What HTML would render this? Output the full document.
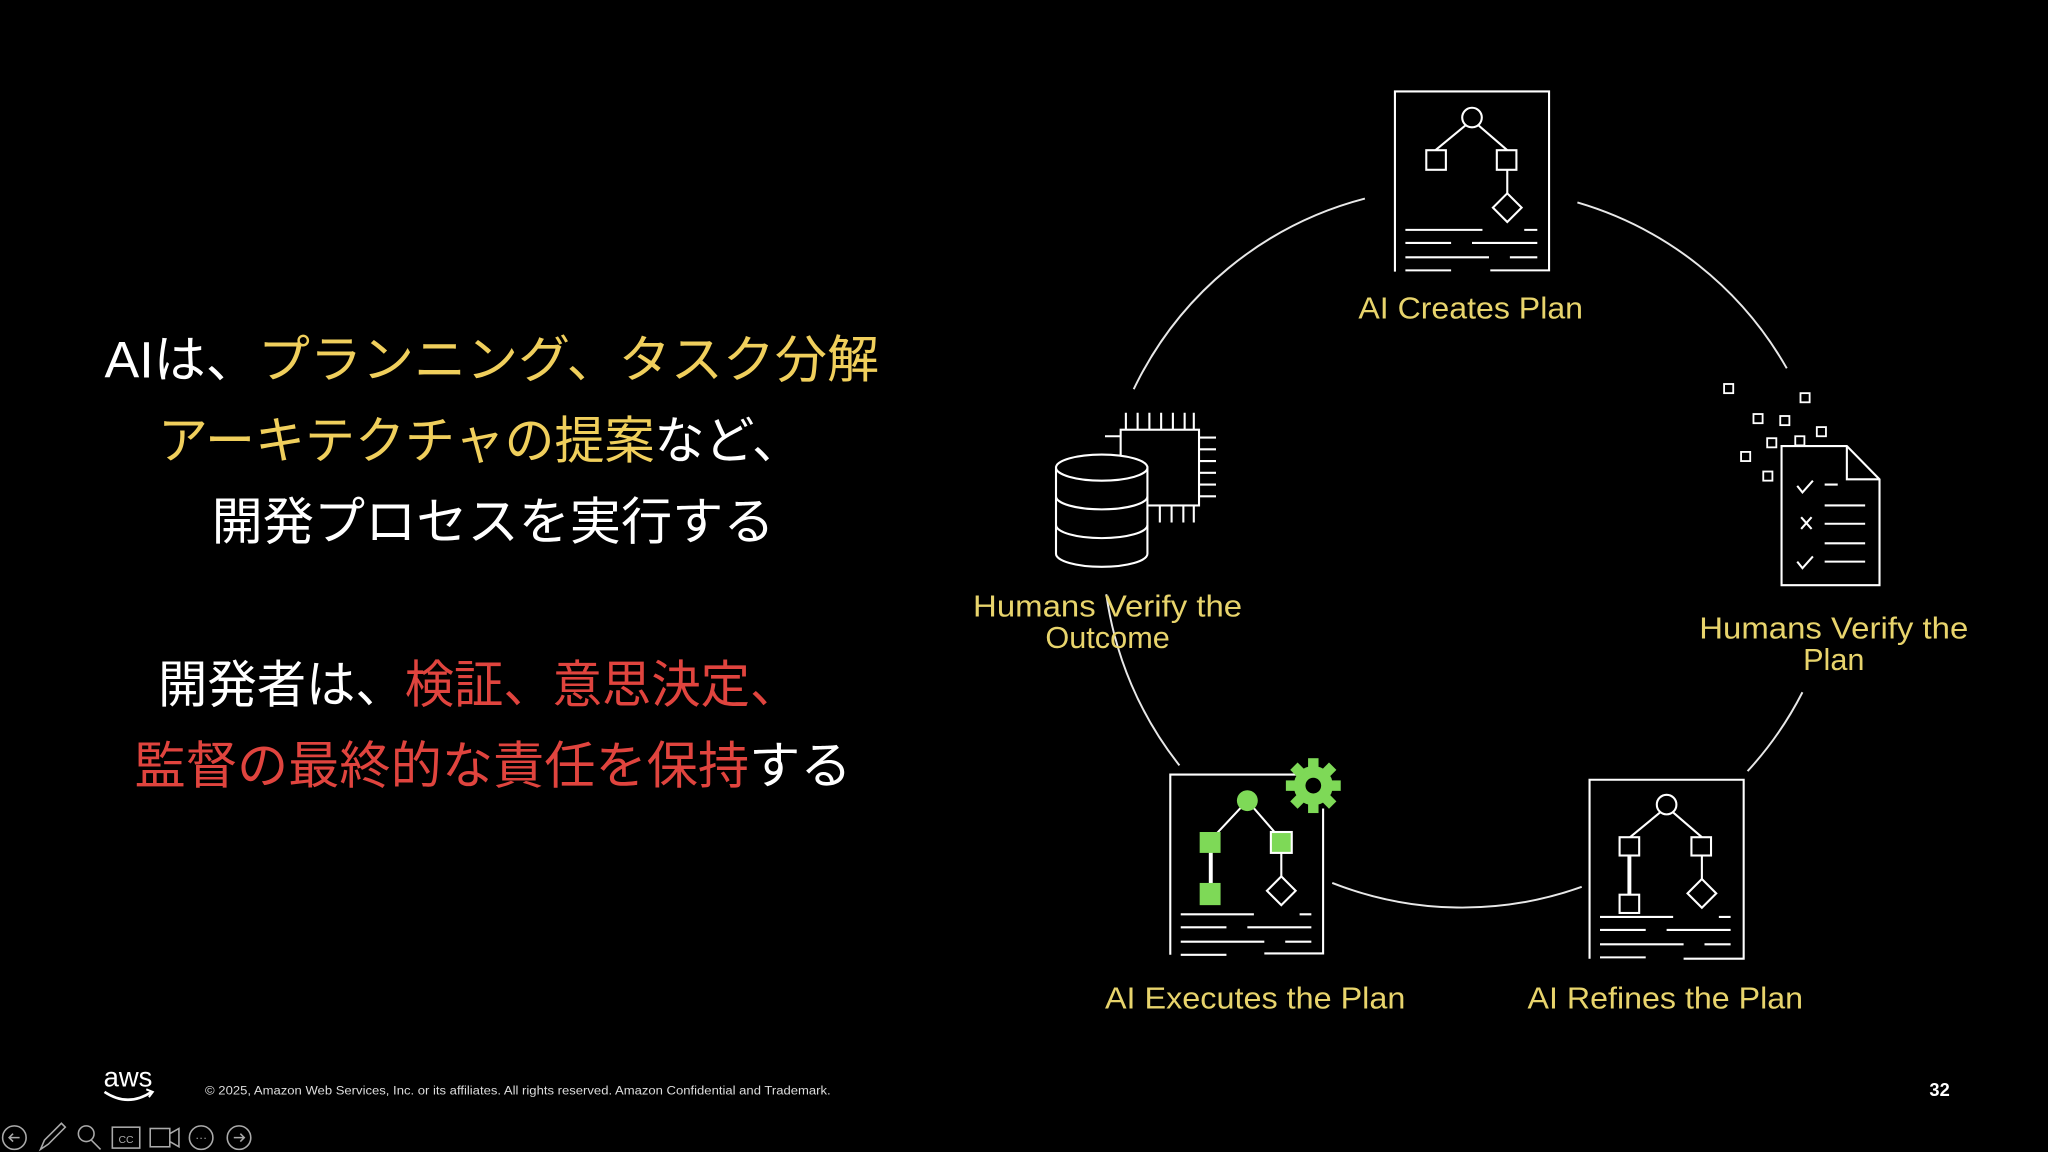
<!DOCTYPE html>
<html><head><meta charset="utf-8"><style>
html,body{margin:0;padding:0;background:#000;}
svg{display:block;}
text{font-family:"Liberation Sans","Noto Sans CJK JP",sans-serif;}
</style></head><body>
<svg width="2048" height="1152" viewBox="0 0 1568 882" xmlns="http://www.w3.org/2000/svg">
<rect width="1568" height="882" fill="#000"/>
<g fill="none" stroke="#e8e8e8" stroke-width="1.5">
<path d="M1207.7 155 A272 272 0 0 1 1368 282"/>
<path d="M1380 530 A272 272 0 0 1 1338 590.4"/>
<path d="M1211 679 A272 272 0 0 1 1020 676"/>
<path d="M903 586 A272 272 0 0 1 847 455"/>
<path d="M868 298 A272 272 0 0 1 1045 152"/>
</g>
<g transform="translate(1068,70)" fill="none" stroke="#fff" stroke-width="1.6">
<path d="M0 138 V0 H118 V137 H73"/>
<circle cx="59" cy="20" r="7.5"/>
<line x1="54" y1="26" x2="31" y2="45"/><line x1="64" y1="26" x2="86" y2="45"/>
<rect x="24" y="45" width="15" height="15"/><rect x="78" y="45" width="15" height="15"/>
<line x1="86" y1="60" x2="86" y2="78"/>
<path d="M86 78 L97 89 L86 100 L75 89 Z"/>
<path d="M8 106H67M99 106H109M8 116H43M59 116H109M8 127H72M88 127H109M8 137H43"/>
</g>
<g transform="translate(1217,597)" fill="none" stroke="#fff" stroke-width="1.6">
<path d="M0 137 V0 H118 V137 H72"/>
<circle cx="59" cy="19" r="7.5"/>
<line x1="54" y1="25" x2="31" y2="44"/><line x1="64" y1="25" x2="86" y2="44"/>
<rect x="23" y="44" width="15" height="14"/><rect x="78" y="44" width="15" height="14"/>
<line x1="30.5" y1="58" x2="30.5" y2="88" stroke-width="3"/>
<rect x="23" y="88" width="15" height="14"/>
<line x1="86" y1="58" x2="86" y2="76"/>
<path d="M86 76 L97 87 L86 98 L75 87 Z"/>
<path d="M8 105H64M99 105H108M8 115H43M59 115H108M8 126H72M88 126H108M8 136H43"/>
</g>
<g transform="translate(896,593)" stroke-width="1.6">
<path d="M0 138 V0 H100 M117 26 V137 H72" fill="none" stroke="#fff"/>
<line x1="59" y1="20" x2="31" y2="50" stroke="#fff"/><line x1="59" y1="20" x2="85" y2="50" stroke="#fff"/>
<line x1="31" y1="55" x2="31" y2="88" stroke="#fff" stroke-width="3"/>
<circle cx="59" cy="20" r="8" fill="#7ed957"/>
<rect x="22.5" y="44" width="16" height="16" fill="#7ed957"/>
<rect x="77" y="44" width="16" height="16" fill="#7ed957" stroke="#fff"/>
<rect x="22.5" y="83" width="16" height="17" fill="#7ed957"/>
<line x1="85" y1="60" x2="85" y2="78" stroke="#fff"/>
<path d="M85 78 L96 89 L85 100 L74 89 Z" fill="none" stroke="#fff"/>
<path d="M8 107H64M99 107H108M8 117H43M59 117H108M8 128H72M88 128H108M8 138H43" fill="none" stroke="#fff"/>
</g>
<g transform="translate(1005.5,601.5)" fill="#7ed957">
<circle r="15"/>
<rect x="-4" y="-21" width="8" height="9"/>
<rect x="-4" y="-21" width="8" height="9" transform="rotate(45)"/>
<rect x="-4" y="-21" width="8" height="9" transform="rotate(90)"/>
<rect x="-4" y="-21" width="8" height="9" transform="rotate(135)"/>
<rect x="-4" y="-21" width="8" height="9" transform="rotate(180)"/>
<rect x="-4" y="-21" width="8" height="9" transform="rotate(225)"/>
<rect x="-4" y="-21" width="8" height="9" transform="rotate(270)"/>
<rect x="-4" y="-21" width="8" height="9" transform="rotate(315)"/>
<circle r="6" fill="#000"/>
</g>
<g fill="none" stroke="#fff" stroke-width="1.6">
<path d="M1364 448 V341.5 H1414 L1439 367 V448 Z"/>
<path d="M1414 341.5 V367 H1439"/>
<path d="M1376 372 l4 5 l8 -9M1376 430 l4 5 l8 -9M1379 396 l8 9M1387 396 l-8 9"/>
<path d="M1397 371H1407M1397 387H1428M1397 401H1428M1397 416H1428M1397 430H1428"/>
<g stroke-width="1.4">
<rect x="1320" y="294" width="7" height="7"/><rect x="1378.5" y="301" width="7" height="7"/>
<rect x="1342.5" y="317" width="7" height="7"/><rect x="1363" y="318.5" width="7" height="7"/>
<rect x="1391" y="327" width="7" height="7"/><rect x="1353" y="335.5" width="7" height="7"/>
<rect x="1374.5" y="334" width="7" height="7"/><rect x="1333" y="346" width="7" height="7"/>
<rect x="1350" y="361" width="7" height="7"/>
</g>
</g>
<g fill="none" stroke="#fff" stroke-width="1.6">
<rect x="858" y="329" width="60" height="58"/>
<path d="M862 329V316M871 329V316M880 329V316M889 329V316M898 329V316M907 329V316M914 329V316"/>
<path d="M918 335H931M918 344H931M918 353H931M918 362H931M918 371H931M918 380H931"/>
<path d="M888 387V400M897 387V400M906 387V400M914 387V400M858 334H846"/>
<path d="M808.5 358 V424 A35 10 0 0 0 878.5 424 V358 Z" fill="#000"/>
<ellipse cx="843.5" cy="358" rx="35" ry="10" fill="#000"/>
<path d="M808.5 380 A35 10 0 0 0 878.5 380 M808.5 402 A35 10 0 0 0 878.5 402"/>
</g>
<g fill="#e8d46c" font-size="23.5" text-anchor="middle">
<text x="1126" y="244" textLength="172" lengthAdjust="spacingAndGlyphs">AI Creates Plan</text>
<text x="1404" y="489" textLength="206" lengthAdjust="spacingAndGlyphs">Humans Verify the</text>
<text x="1404" y="513">Plan</text>
<text x="1275" y="772" textLength="211" lengthAdjust="spacingAndGlyphs">AI Refines the Plan</text>
<text x="961" y="772" textLength="230" lengthAdjust="spacingAndGlyphs">AI Executes the Plan</text>
<text x="848" y="472" textLength="206" lengthAdjust="spacingAndGlyphs">Humans Verify the</text>
<text x="848" y="496">Outcome</text>
</g>
<g font-size="39" fill="#fff">
<text x="80" y="289" textLength="593" lengthAdjust="spacingAndGlyphs">AIは、<tspan fill="#f0cf5c">プランニング、タスク分解</tspan></text>
<text x="121" y="351" textLength="493" lengthAdjust="spacingAndGlyphs"><tspan fill="#f0cf5c">アーキテクチャの提案</tspan>など、</text>
<text x="162" y="413" textLength="431" lengthAdjust="spacingAndGlyphs">開発プロセスを実行する</text>
<text x="121" y="538" textLength="491" lengthAdjust="spacingAndGlyphs">開発者は、<tspan fill="#e0443e">検証、意思決定、</tspan></text>
<text x="103" y="600" textLength="549" lengthAdjust="spacingAndGlyphs"><tspan fill="#e0443e">監督の最終的な責任を保持</tspan>する</text>
</g>
<text x="98" y="832" font-size="21" fill="#fff" text-anchor="middle">aws</text>
<path d="M80 836 Q98 848 116 836" fill="none" stroke="#fff" stroke-width="2"/>
<path d="M112 834 L117 836 L114 840" fill="none" stroke="#fff" stroke-width="1.5"/>
<text x="157" y="838" font-size="9" fill="#ddd" textLength="479" lengthAdjust="spacingAndGlyphs">© 2025, Amazon Web Services, Inc. or its affiliates. All rights reserved. Amazon Confidential and Trademark.</text>
<text x="1485" y="839" font-size="14" fill="#fff" text-anchor="middle" font-weight="bold">32</text>
<g fill="none" stroke="#aaa" stroke-width="1.2">
<circle cx="11" cy="871" r="9"/><path d="M15 871H7M10 868L7 871L10 874"/>
<path d="M31 880 L34 873 L47 860 L50 863 L37 876 Z"/>
<circle cx="66" cy="868" r="6"/><path d="M70 873L77 880"/>
<rect x="86" y="863" width="21" height="16"/>
<rect x="115" y="864" width="15" height="14"/><path d="M130 868 L137 864 V878 L130 874"/>
<circle cx="154" cy="871" r="9"/>
<circle cx="183" cy="871" r="9"/><path d="M179 871H187M184 868L187 871L184 874"/>
</g>
<text x="96.5" y="875" font-size="8" fill="#aaa" text-anchor="middle">CC</text>
<text x="154" y="874" font-size="9" fill="#aaa" text-anchor="middle">···</text>
</svg>
</body></html>
